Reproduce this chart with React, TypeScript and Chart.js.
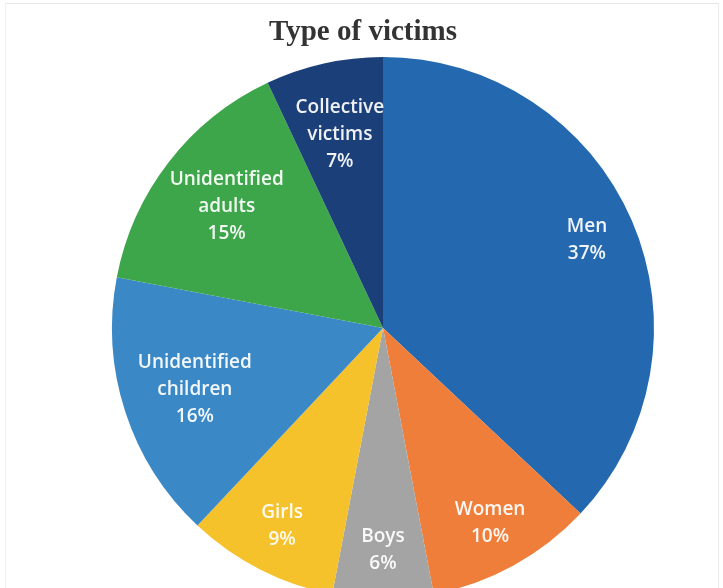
import React, { useEffect, useRef } from "react";
import { Chart, registerables } from "chart.js";

Chart.register(...registerables);

const TITLE = "Type of victims";
const categories = [
  "Men",
  "Women",
  "Boys",
  "Girls",
  "Unidentified children",
  "Unidentified adults",
  "Collective victims",
];
const values = [37, 10, 6, 9, 16, 15, 7];
const colors = ["#2468B0", "#EE7E3A", "#A4A4A4", "#F5C22B", "#3A88C6", "#3EA64A", "#1B3F79"];

const titlePlugin = {
  id: "customTitle",
  afterDraw(chart: any) {
    const ctx = chart.ctx;
    ctx.save();
    ctx.font = "bold 29px 'Liberation Serif', 'Times New Roman', serif";
    ctx.fillStyle = "#333333";
    ctx.textAlign = "center";
    ctx.textBaseline = "middle";
    ctx.fillText(TITLE, 363, 33);
    ctx.restore();
  },
};

const labelPlugin = {
  id: "sliceLabels",
  afterDatasetsDraw(chart: any) {
    const ctx = chart.ctx;
    const meta = chart.getDatasetMeta(0);
    const data = chart.data.datasets[0].data as number[];
    const total = data.reduce((a, b) => a + b, 0);
    ctx.save();
    ctx.font = "600 19px 'Open Sans', sans-serif";
    ctx.fillStyle = "rgba(255,255,255,0.93)";
    ctx.textAlign = "center";
    ctx.textBaseline = "middle";
    const lineH = 27;
    meta.data.forEach((arc: any, i: number) => {
      const { x, y, startAngle, endAngle, outerRadius } = arc.getProps(
        ["x", "y", "startAngle", "endAngle", "outerRadius"],
        true
      );
      const lines = String(chart.data.labels[i]).split(" ");
      lines.push(Math.round((data[i] / total) * 100) + "%");
      const frac = lines.length >= 3 ? 0.73 : 0.82;
      const mid = (startAngle + endAngle) / 2;
      const cx = x + Math.cos(mid) * outerRadius * frac;
      const cy = y + Math.sin(mid) * outerRadius * frac;
      const top = cy - ((lines.length - 1) * lineH) / 2;
      lines.forEach((ln, k) => ctx.fillText(ln, cx, top + k * lineH));
    });
    ctx.restore();
  },
};

export default function App() {
  const ref = useRef<HTMLCanvasElement | null>(null);
  useEffect(() => {
    if (!ref.current) return;
    const chart = new Chart(ref.current, {
      type: "pie",
      data: {
        labels: categories,
        datasets: [
          {
            data: values,
            backgroundColor: colors,
            borderWidth: 0,
          },
        ],
      },
      options: {
        animation: false,
        responsive: false,
        devicePixelRatio: 1,
        layout: { padding: { top: 57, bottom: 21, left: 112, right: 69 } },
        plugins: {
          legend: { display: false },
          tooltip: { enabled: false },
          title: { display: false },
        },
      },
      plugins: [titlePlugin, labelPlugin],
    });
    return () => chart.destroy();
  }, []);
  return (
    <div style={{ position: "absolute", left: 0, top: 0, width: 723, height: 620, background: "#fff" }}>
      <div
        style={{
          position: "absolute",
          left: 5,
          top: 3,
          width: 712,
          height: 640,
          borderTop: "1px solid #e6e6e6",
          borderLeft: "1px solid #f0f0f0",
          borderRight: "1px solid #ececec",
        }}
      />
      <canvas
        ref={ref}
        width={723}
        height={620}
        style={{ position: "relative", width: 723, height: 620, display: "block" }}
      />
    </div>
  );
}
